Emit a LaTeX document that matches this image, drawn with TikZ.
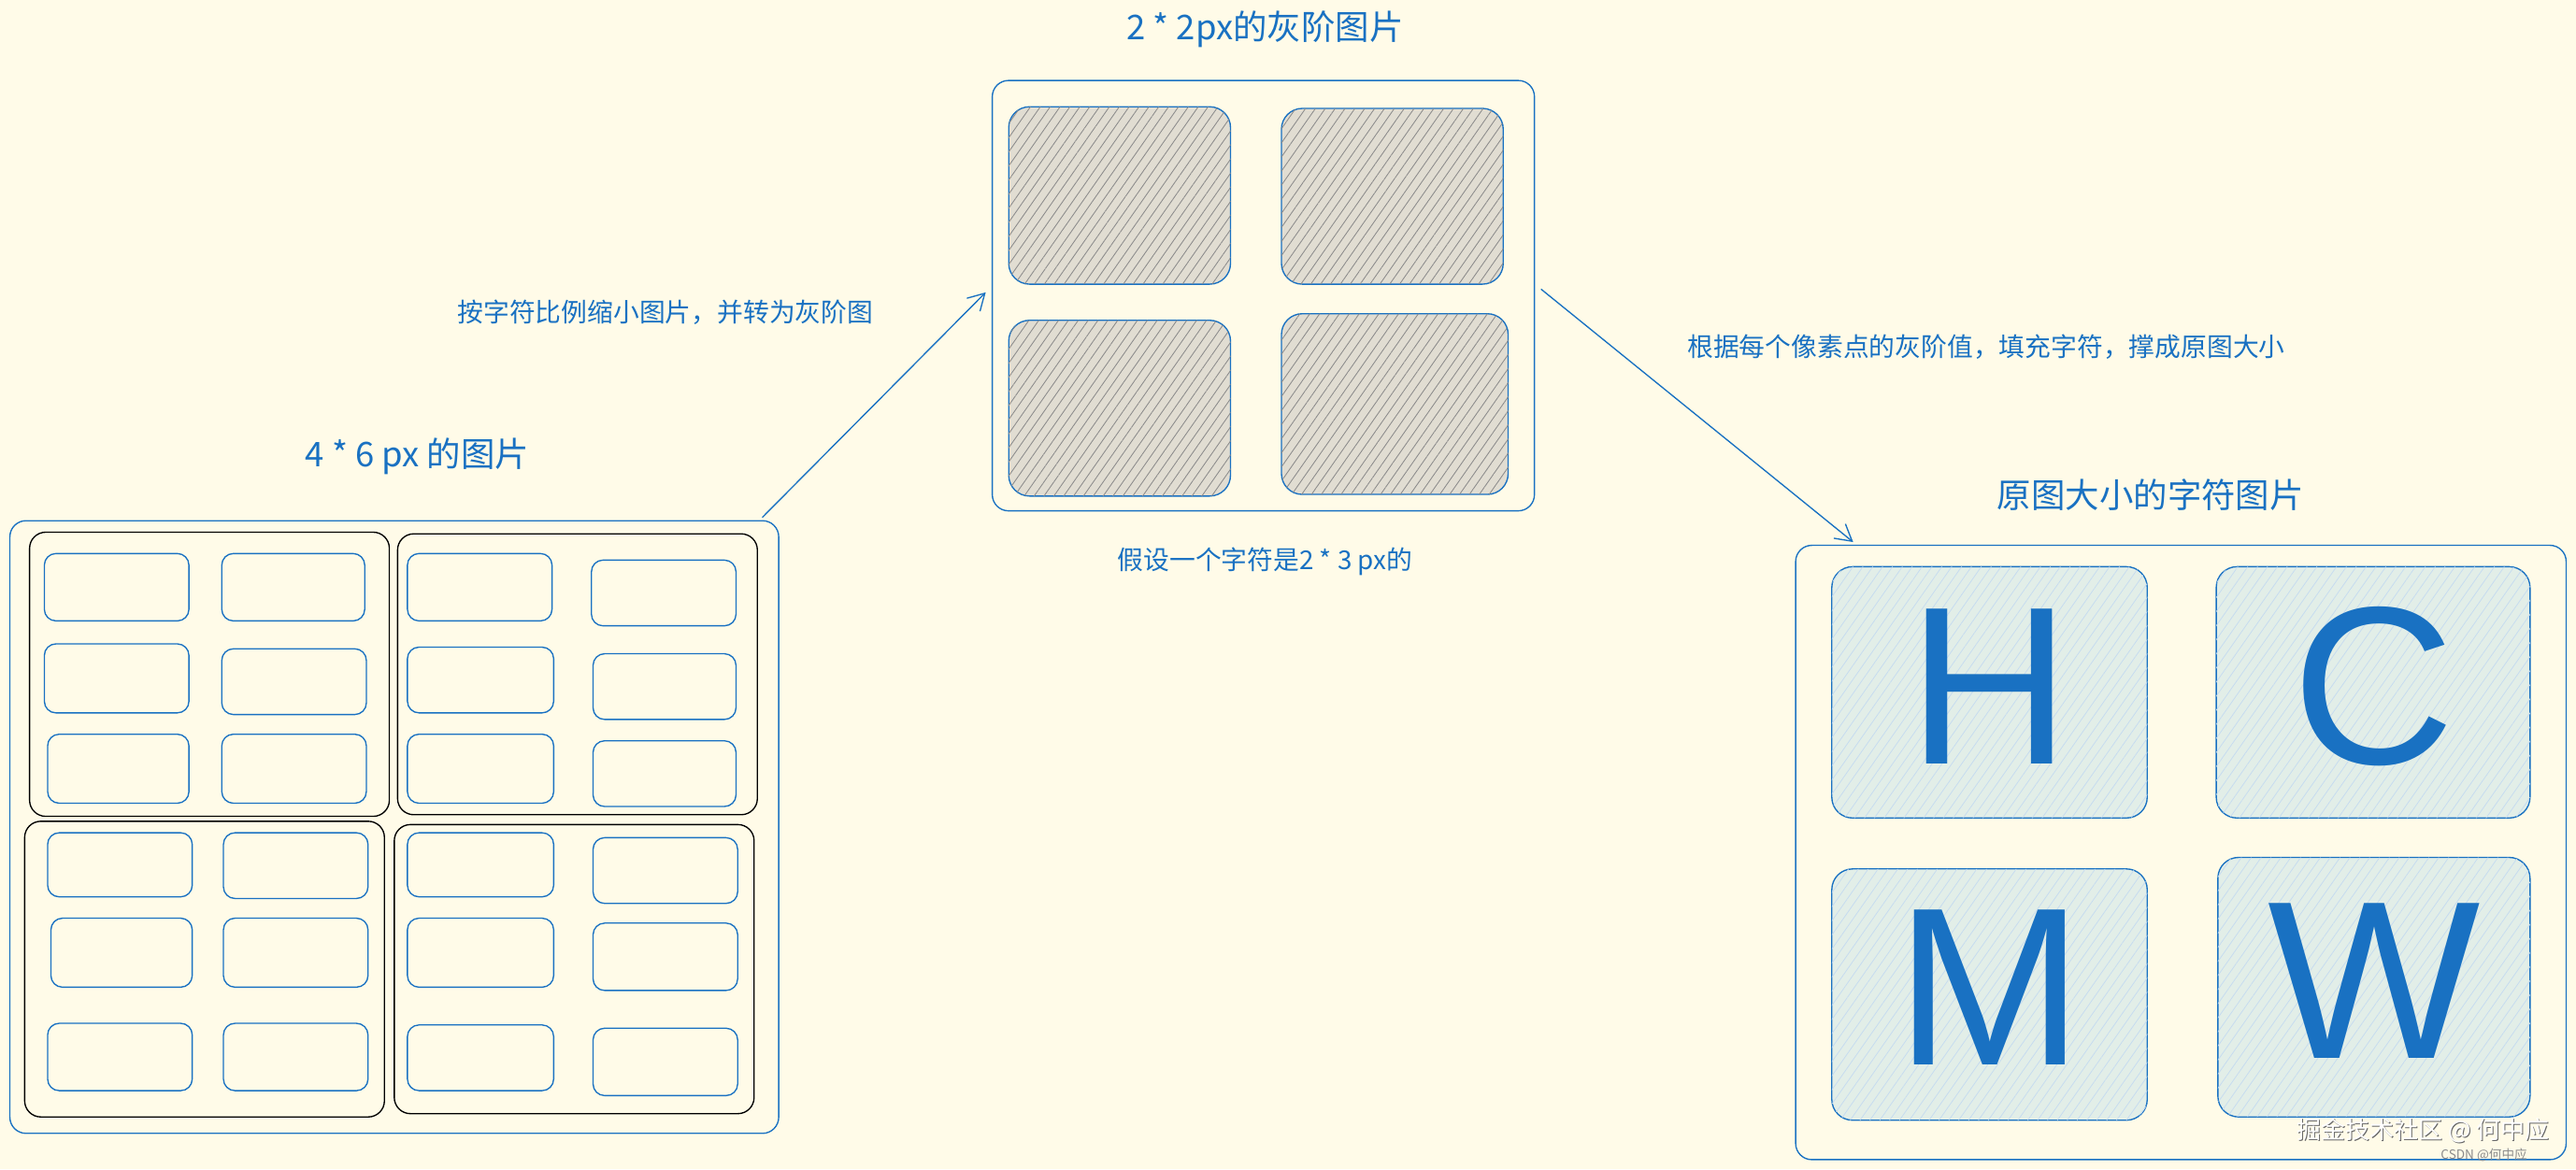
\documentclass[tikz,border=0pt]{standalone}
\usepackage{fontspec}
\setmainfont{Liberation Sans}
\newfontfamily\cjk{Noto Sans CJK SC}
\usetikzlibrary{patterns.meta,arrows.meta}
\definecolor{bg}{RGB}{255,251,232}
\definecolor{bl}{RGB}{25,113,194}
\definecolor{gfill}{RGB}{225,221,210}
\definecolor{bfill}{RGB}{226,238,232}
\tikzset{
 box/.style={draw=bl,line width=1.1pt,rounded corners=14pt},
 blk/.style={draw=black,line width=1.1pt,rounded corners=14pt},
 small/.style={draw=bl,line width=1.1pt,rounded corners=10pt},
 gray/.style={draw=bl,line width=1.1pt,rounded corners=18pt,fill=gfill,postaction={pattern={Lines[angle=55,distance=7pt,line width=0.7pt]},pattern color=black!45}},
 blu/.style={draw=bl,line width=1.1pt,rounded corners=18pt,fill=bfill,postaction={pattern={Lines[angle=55,distance=7pt,line width=0.6pt]},pattern color=bl!25}},
 ttl/.style={text=bl,font=\cjk\fontsize{29.5}{34}\selectfont},
 lbl/.style={text=bl,font=\cjk\fontsize{22.5}{26}\selectfont},
 let/.style={text=bl,font=\fontsize{195}{200}\selectfont},
 arr/.style={draw=bl,line width=1.1pt,-{Straight Barb[length=14pt,width=16pt]}}
}
\begin{document}
\begin{tikzpicture}[x=0.05cm,y=-0.05cm]
\fill[bg] (0,0) rectangle (1568,712);
\useasboundingbox (0,0) rectangle (1568,712);
% left
\draw[box] (6,317) rectangle (474,690);
\coordinate (Lout) at (464,315);
\draw[blk] (18,324) rectangle (237,497);
\draw[blk] (242,325) rectangle (461,496);
\draw[blk] (15,500) rectangle (234,680);
\draw[blk] (240,502) rectangle (459,678);
\foreach \a/\b/\c/\d in {27/337/115/378,135/337/222/378,27/392/115/434,135/395/223/435,29/447/115/489,135/447/223/489,
248/337/336/378,360/341/448/381,248/394/337/434,361/398/448/438,248/447/337/489,361/451/448/491,
29/507/117/546,136/507/224/547,31/559/117/601,136/559/224/601,29/623/117/664,136/623/224/664,
248/507/337/546,361/510/449/550,248/559/337/601,361/562/449/603,248/624/337/664,361/626/449/667}
 \draw[small] (\a,\b) rectangle (\c,\d);
\node[ttl] (lt) at (254,278) {4 * 6 px 的图片};
% middle
\draw[box] (604,49) rectangle (934,311);
\draw[gray] (614,65) rectangle (749,173);
\draw[gray] (780,66) rectangle (915,173);
\draw[gray] (614,195) rectangle (749,302);
\draw[gray] (780,191) rectangle (918,301);
\coordinate (Min) at (600,178);
\coordinate (Mout) at (938,176);
\node[ttl] (mt) at (770,18) {2 * 2px的灰阶图片};
\node[lbl] (mb) at (770,342) {假设一个字符是2 * 3 px的};
% right
\draw[box] (1093,332) rectangle (1562,706);
\coordinate (Rin) at (1128,330);
\draw[blu] (1115,345) rectangle (1307,498);
\draw[blu] (1349,345) rectangle (1540,498);
\draw[blu] (1115,529) rectangle (1307,682);
\draw[blu] (1350,522) rectangle (1540,680);
\node[let] (h) at (1211,418) {H};
\node[let] (c) at (1445,418) {C};
\node[let] (m) at (1211,601) {M};
\node[let] (w) at (1445,597) {W};
\node[ttl] (rt) at (1309,301) {原图大小的字符图片};
% arrows
\draw[arr] (Lout) -- (Min);
\draw[arr] (Mout) -- (Rin);
\node[lbl] (a1) at (405,190) {按字符比例缩小图片，并转为灰阶图};
\node[lbl] (a2) at (1209,211) {根据每个像素点的灰阶值，填充字符，撑成原图大小};
% watermark
\node[text=black!60,font=\cjk\fontsize{21}{24}\selectfont] (wm1s) at (1475.6,688.6) {掘金技术社区 @ 何中应};
\node[text=white,font=\cjk\fontsize{21}{24}\selectfont] (wm1) at (1475,688) {掘金技术社区 @ 何中应};
\node[text=black!45,font=\cjk\fontsize{11}{13}\selectfont] (wm2) at (1512,703) {CSDN @何中应};
\end{tikzpicture}
\end{document}
